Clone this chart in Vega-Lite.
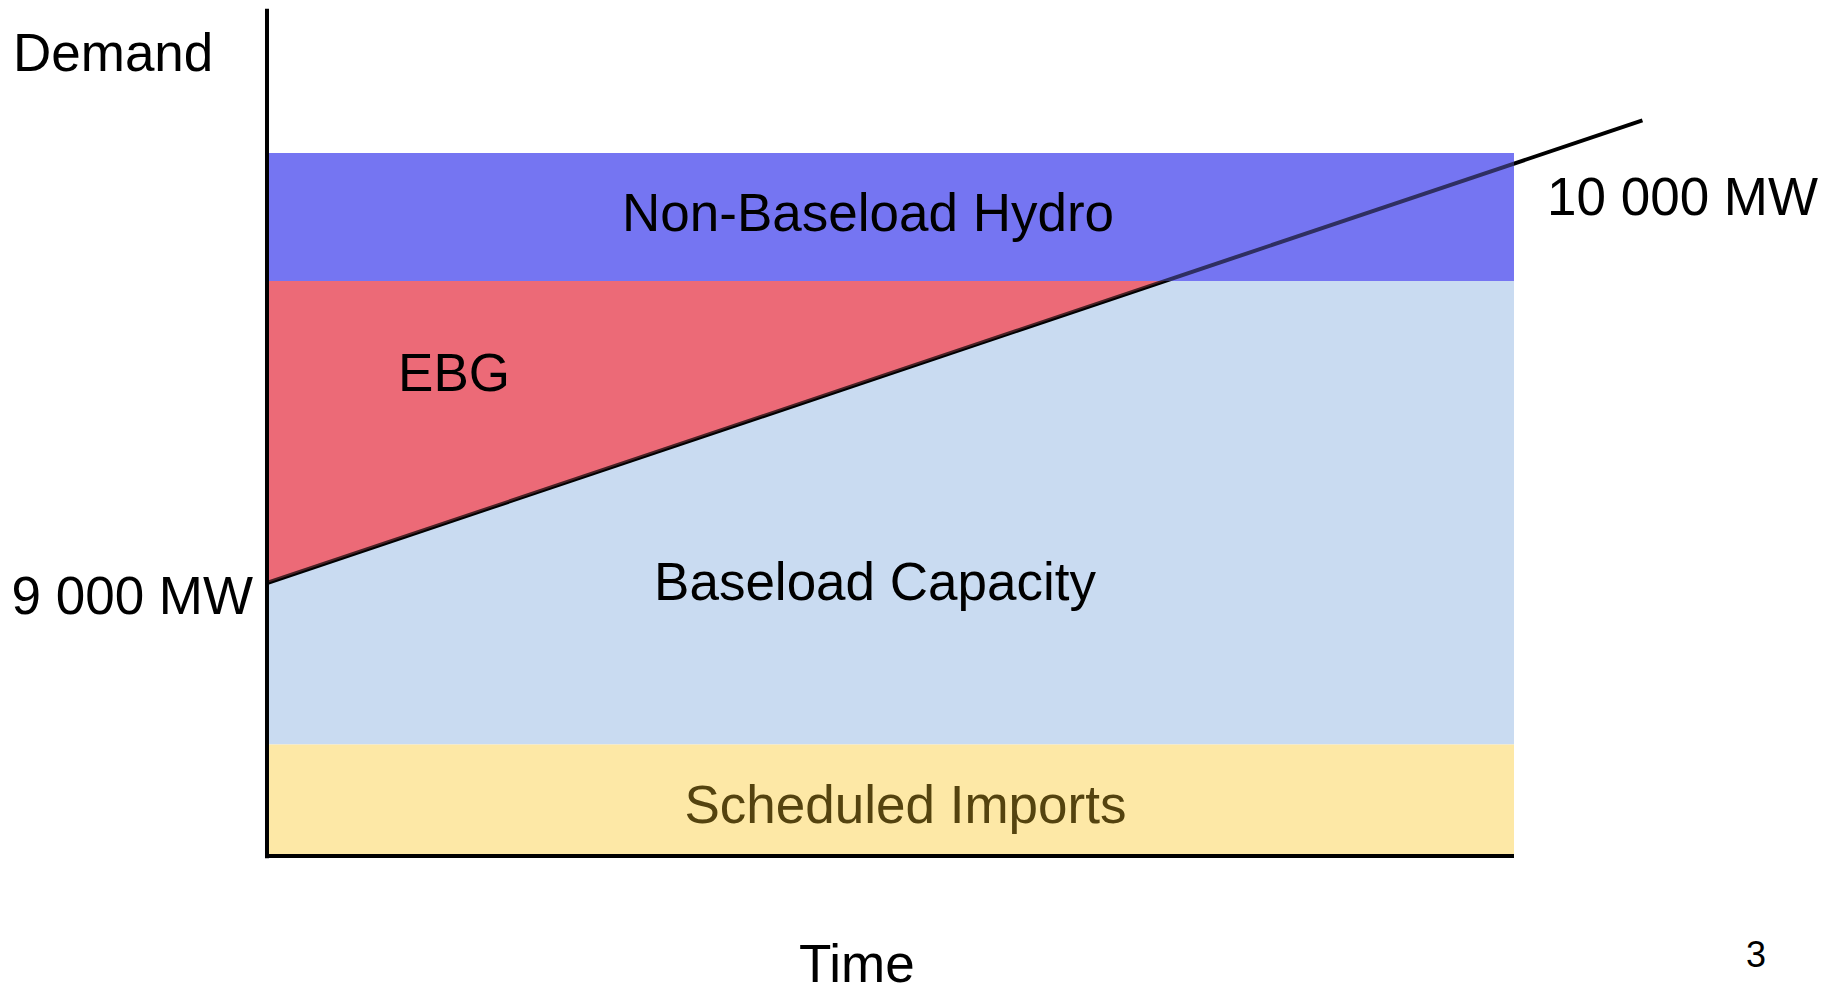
{
  "$schema": "https://vega.github.io/schema/vega-lite/v6.json",
  "width": 1839,
  "height": 985,
  "autosize": {"type": "none"},
  "padding": 0,
  "background": "white",
  "config": {"view": {"stroke": null}, "text": {"font": "Liberation Sans"}},
  "datasets": {
    "bands": [
      {"band": "Baseload Capacity", "t0": 0, "t1": 100, "lo": 8615, "hi": 9720},
      {"band": "Scheduled Imports", "t0": 0, "t1": 100, "lo": 8351, "hi": 8615},
      {"band": "Non-Baseload Hydro", "t0": 0, "t1": 100, "lo": 9720, "hi": 10025}
    ],
    "ebg": [
      {"t": 0, "demand": 9000, "top": 9720},
      {"t": 72, "demand": 9720, "top": 9720}
    ],
    "demand": [
      {"t": 0, "demand": 9000},
      {"t": 110.3, "demand": 10103}
    ],
    "yaxis": [{"t": 0, "lo": 8344, "hi": 10369}],
    "xaxis": [{"t0": -0.15, "t1": 100, "mw": 8349}],
    "leftLabels": [
      {"label": "Demand", "t": -20.37, "mw": 10221},
      {"label": "10 000 MW", "t": 102.65, "mw": 9877}
    ],
    "rightLabels": [
      {"label": "9 000 MW", "t": -1.12, "mw": 8926}
    ],
    "centerLabels": [
      {"label": "Non-Baseload Hydro", "t": 48.2, "mw": 9839},
      {"label": "EBG", "t": 15.0, "mw": 9458},
      {"label": "Baseload Capacity", "t": 48.76, "mw": 8960},
      {"label": "Time", "t": 47.3, "mw": 8048}
    ],
    "importLabel": [
      {"label": "Scheduled Imports", "t": 51.2, "mw": 8428}
    ],
    "pageLabel": [
      {"label": "3", "t": 119.41, "mw": 8084}
    ]
  },
  "layer": [
    {
      "data": {"name": "bands"},
      "mark": {"type": "rect"},
      "encoding": {
        "x": {"field": "t0", "type": "quantitative", "scale": {"domain": [-21.411, 126.063], "nice": false, "zero": false}, "axis": null},
        "x2": {"field": "t1"},
        "y": {"field": "lo", "type": "quantitative", "scale": {"domain": [8041.5, 10390.08], "nice": false, "zero": false}, "axis": null},
        "y2": {"field": "hi"},
        "color": {"field": "band", "type": "nominal", "legend": null,
          "scale": {"domain": ["Baseload Capacity", "Scheduled Imports", "Non-Baseload Hydro", "EBG"], "range": ["#c9dbf1", "#fde8a6", "#7676f2", "#ec6b77"]}}
      }
    },
    {
      "data": {"name": "ebg"},
      "mark": {"type": "area", "color": "#ec6b77"},
      "encoding": {
        "x": {"field": "t", "type": "quantitative"},
        "y": {"field": "demand", "type": "quantitative"},
        "y2": {"field": "top"}
      }
    },
    {
      "data": {"name": "demand"},
      "mark": {"type": "line", "color": "black", "strokeWidth": 4},
      "encoding": {
        "x": {"field": "t", "type": "quantitative"},
        "y": {"field": "demand", "type": "quantitative"}
      }
    },
    {
      "data": {"name": "bands"},
      "transform": [{"filter": "datum.band === 'Non-Baseload Hydro'"}],
      "mark": {"type": "rect", "color": "#7676f2", "opacity": 0.4},
      "encoding": {
        "x": {"field": "t0", "type": "quantitative"},
        "x2": {"field": "t1"},
        "y": {"field": "lo", "type": "quantitative"},
        "y2": {"field": "hi"}
      }
    },
    {
      "data": {"name": "ebg"},
      "mark": {"type": "area", "color": "#ec6b77", "opacity": 0.3},
      "encoding": {
        "x": {"field": "t", "type": "quantitative"},
        "y": {"field": "demand", "type": "quantitative"},
        "y2": {"field": "top"}
      }
    },
    {
      "data": {"name": "yaxis"},
      "mark": {"type": "rule", "color": "black", "strokeWidth": 4},
      "encoding": {
        "x": {"field": "t", "type": "quantitative"},
        "y": {"field": "lo", "type": "quantitative"},
        "y2": {"field": "hi"}
      }
    },
    {
      "data": {"name": "xaxis"},
      "mark": {"type": "rule", "color": "black", "strokeWidth": 4},
      "encoding": {
        "x": {"field": "t0", "type": "quantitative"},
        "x2": {"field": "t1"},
        "y": {"field": "mw", "type": "quantitative"}
      }
    },
    {
      "data": {"name": "leftLabels"},
      "mark": {"type": "text", "align": "left", "baseline": "alphabetic", "fontSize": 53, "color": "black"},
      "encoding": {
        "x": {"field": "t", "type": "quantitative"},
        "y": {"field": "mw", "type": "quantitative"},
        "text": {"field": "label"}
      }
    },
    {
      "data": {"name": "rightLabels"},
      "mark": {"type": "text", "align": "right", "baseline": "alphabetic", "fontSize": 53, "color": "black"},
      "encoding": {
        "x": {"field": "t", "type": "quantitative"},
        "y": {"field": "mw", "type": "quantitative"},
        "text": {"field": "label"}
      }
    },
    {
      "data": {"name": "centerLabels"},
      "mark": {"type": "text", "align": "center", "baseline": "alphabetic", "fontSize": 53, "color": "black"},
      "encoding": {
        "x": {"field": "t", "type": "quantitative"},
        "y": {"field": "mw", "type": "quantitative"},
        "text": {"field": "label"}
      }
    },
    {
      "data": {"name": "importLabel"},
      "mark": {"type": "text", "align": "center", "baseline": "alphabetic", "fontSize": 53, "color": "#54430f"},
      "encoding": {
        "x": {"field": "t", "type": "quantitative"},
        "y": {"field": "mw", "type": "quantitative"},
        "text": {"field": "label"}
      }
    },
    {
      "data": {"name": "pageLabel"},
      "mark": {"type": "text", "align": "center", "baseline": "alphabetic", "fontSize": 36, "color": "black"},
      "encoding": {
        "x": {"field": "t", "type": "quantitative"},
        "y": {"field": "mw", "type": "quantitative"},
        "text": {"field": "label"}
      }
    }
  ]
}
